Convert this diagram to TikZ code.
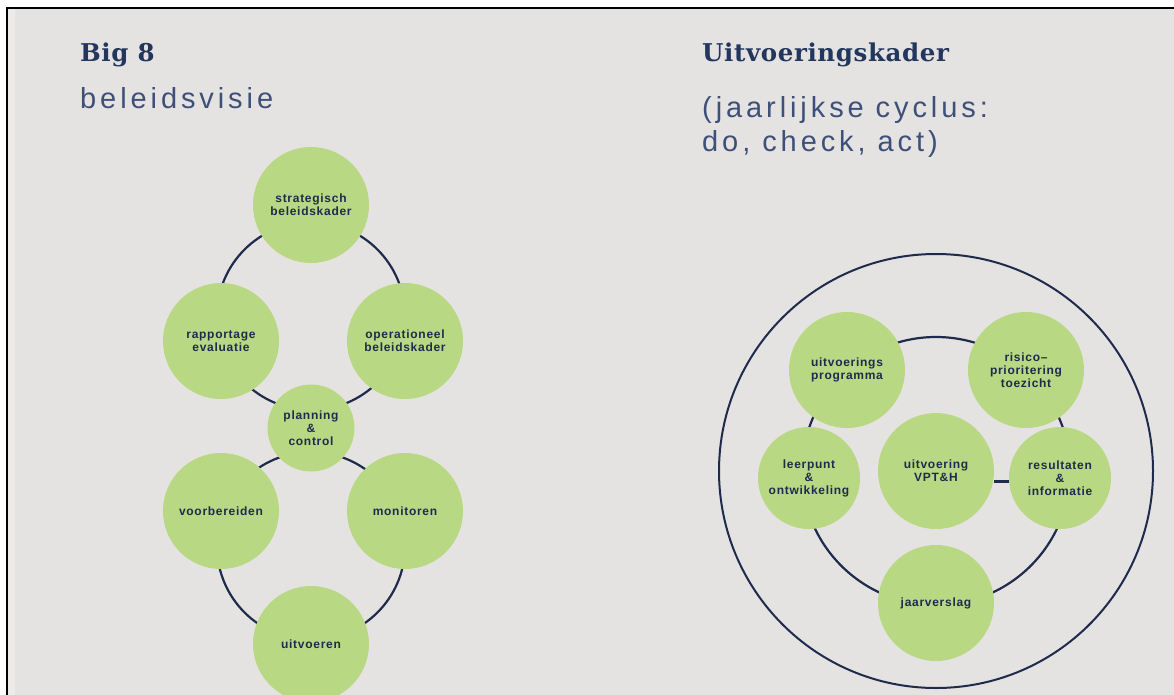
\documentclass[tikz,border=0pt]{standalone}
\usepackage{fontspec}
\usepackage{tikz}
\usetikzlibrary{positioning}
\newfontfamily\headfont[LetterSpace=2.5]{DejaVu Serif}
\newfontfamily\subfont[LetterSpace=13.5]{Liberation Sans}
\newfontfamily\circfont[LetterSpace=6]{Liberation Sans}
\definecolor{navy}{HTML}{1E2B4D}
\definecolor{headblue}{HTML}{22365E}
\definecolor{subblue}{HTML}{3E5079}
\definecolor{leaf}{HTML}{B8D883}
\definecolor{paper}{HTML}{E5E3E1}
\definecolor{paperlight}{HTML}{ECEBE9}

\begin{document}
\begin{tikzpicture}[x=1pt,y=-1pt,
  main_node/.style={circle,fill=leaf,minimum size=116pt,inner sep=0pt,align=center,text=navy,font=\circfont\bfseries\fontsize{12pt}{13pt}\selectfont},
  small_node/.style={main_node,minimum size=102pt},
  pc_node/.style={main_node,minimum size=87pt},
  ring/.style={draw=navy,line width=2.2pt},
  head/.style={anchor=base west,inner sep=0pt,text=headblue,font=\headfont\bfseries\fontsize{24.5pt}{30pt}\selectfont},
  sub/.style={anchor=base west,inner sep=0pt,text=subblue,font=\subfont\fontsize{29pt}{34pt}\selectfont}]
\useasboundingbox (0,0) rectangle (1174,695);
% achtergrond
\fill[white] (0,0) rectangle (1174,695);
\fill[paper] (7,8) rectangle (1174,695);
\fill[paperlight] (8,9) rectangle (15,695);
\draw[black,line width=2.5pt] (7,695) -- (7,8) -- (1174,8);

% koppen
\node[head] (t1) at (80,62) {Big 8};
\node[sub] (s1) at (80,109) {beleidsvisie};
\node[head] (t2) at (702,62) {Uitvoeringskader};
\node[sub] (s2) at (702,118) {(jaarlijkse cyclus:};
\node[sub] (s3) at (702,152) {do, check, act)};

% Big 8: twee cirkels
\coordinate (c1) at (311,316);
\coordinate (c2) at (311,546);
\draw[ring] (c1) circle[radius=94pt];
\draw[ring] (c2) circle[radius=94pt];
\node[main_node](1) at (311,205){strategisch\\beleidskader};
\node[main_node](2) at (221,341){rapportage\\evaluatie};
\node[main_node](3) at (405,341){operationeel\\beleidskader};
\node[pc_node](4) at (311,428){planning\\\&\\control};
\node[main_node](5) at (221,511){voorbereiden};
\node[main_node](6) at (405,511){monitoren};
\node[main_node](7) at (311,644){uitvoeren};

% uitvoeringskader
\coordinate (c3) at (936,471);
\draw[navy,line width=2pt] (c3) circle[radius=217pt];
\draw[ring] (c3) circle[radius=134pt];
\node[main_node](8) at (847,370){uitvoerings\\programma};
\node[main_node](9) at (1026,370){risico–\\prioritering\\toezicht};
\node[small_node](10) at (809,478){leerpunt\\\&\\ontwikkeling};
\node[main_node](11) at (936,471){uitvoering\\VPT\&H};
\node[small_node](12) at (1060,478){resultaten\\\&\\informatie};
\node[main_node](13) at (936,603){jaarverslag};
\path[draw=navy,line width=3pt] (11.east |- 0,481) -- (12.west |- 0,481);
\end{tikzpicture}
\end{document}
